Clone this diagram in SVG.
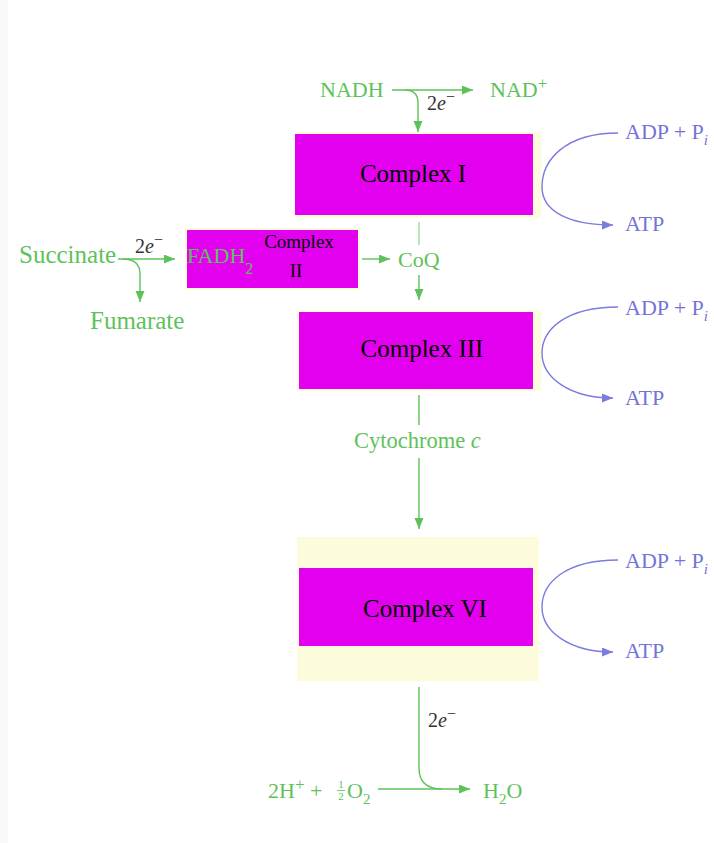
<svg xmlns="http://www.w3.org/2000/svg" width="714" height="843" viewBox="0 0 714 843">
<style>
.g{fill:#5ec25a;font-family:"Liberation Serif",serif}
.b{fill:#7474d8;font-family:"Liberation Serif",serif;font-size:22px}
.k{fill:#000;font-family:"Liberation Serif",serif}
.e{fill:#333;font-family:"Liberation Serif",serif;font-size:20px}
.cx{fill:#e300ef}
.gl{fill:none;stroke:#5ec25a;stroke-width:1.4}
.bl{fill:none;stroke:#7b7be0;stroke-width:1.4}
.pale{fill:#fcfcdc}
</style>
<defs>
<marker id="ag" markerUnits="userSpaceOnUse" markerWidth="12" markerHeight="10" refX="11" refY="4.5" orient="auto"><path d="M0,0 L11,4.5 L0,9 z" fill="#5ec25a"/></marker>
<marker id="ab" markerUnits="userSpaceOnUse" markerWidth="12" markerHeight="10" refX="11" refY="4.5" orient="auto"><path d="M0,0 L11,4.5 L0,9 z" fill="#7b7be0"/></marker>
</defs>
<rect width="714" height="843" fill="#ffffff"/>
<rect x="0" y="0" width="8" height="843" fill="#f9f9fb"/>

<g id="complex1">
<rect class="pale" x="295" y="132" width="246" height="86"/>
<rect class="cx" x="295" y="134" width="238" height="81"/>
<text class="k" x="413" y="182" font-size="25" text-anchor="middle">Complex I</text>
</g>
<g id="complex2">
<rect class="pale" x="185" y="228" width="175" height="62"/>
<rect class="cx" x="187" y="230" width="171" height="58"/>
<text class="g" x="187" y="263" font-size="22">FADH<tspan font-size="16" dy="11">2</tspan></text>
<text class="k" x="299" y="248" font-size="19" text-anchor="middle">Complex</text>
<text class="k" x="296" y="277" font-size="19" text-anchor="middle">II</text>
</g>
<g id="complex3">
<rect class="pale" x="297" y="310" width="244" height="81"/>
<rect class="cx" x="299" y="312" width="234" height="77"/>
<text class="k" x="422" y="357" font-size="25" text-anchor="middle">Complex III</text>
</g>
<g id="complex6">
<rect class="pale" x="297" y="537" width="242" height="144"/>
<rect class="cx" x="299" y="568" width="234" height="78"/>
<text class="k" x="425" y="617" font-size="25" text-anchor="middle">Complex VI</text>
</g>

<g id="labels">
<text class="g" x="320" y="97" font-size="22">NADH</text>
<text class="g" x="490" y="97" font-size="22">NAD<tspan font-size="17" dy="-8">+</tspan></text>
<text class="e" x="427" y="110"><tspan>2</tspan><tspan font-style="italic">e</tspan><tspan font-size="16" dy="-8">−</tspan></text>
<text class="g" x="19" y="263" font-size="25">Succinate</text>
<text class="g" x="90" y="329" font-size="25">Fumarate</text>
<text class="e" x="135" y="253"><tspan>2</tspan><tspan font-style="italic">e</tspan><tspan font-size="16" dy="-8">−</tspan></text>
<text class="g" x="398" y="267" font-size="22">CoQ</text>
<text class="g" x="354" y="448" font-size="22.5">Cytochrome <tspan font-style="italic">c</tspan></text>
<text class="e" x="428" y="727"><tspan>2</tspan><tspan font-style="italic">e</tspan><tspan font-size="16" dy="-8">−</tspan></text>
<text class="g" x="268" y="798" font-size="22">2H<tspan font-size="17" dy="-8">+</tspan><tspan dy="8"> +</tspan></text>
<text class="g" x="341" y="788" font-size="11" text-anchor="middle">1</text>
<line x1="337" y1="790.5" x2="345" y2="790.5" stroke="#5ec25a" stroke-width="0.8"/>
<text class="g" x="341" y="800" font-size="11" text-anchor="middle">2</text>
<text class="g" x="347" y="798" font-size="22">O<tspan font-size="15" dy="6">2</tspan></text>
<text class="g" x="483" y="798" font-size="22">H<tspan font-size="15" dy="6">2</tspan><tspan dy="-6">O</tspan></text>
<text class="b" x="625" y="139">ADP + P<tspan font-size="15" dy="6" font-style="italic">i</tspan></text>
<text class="b" x="625" y="231">ATP</text>
<text class="b" x="625" y="315">ADP + P<tspan font-size="15" dy="6" font-style="italic">i</tspan></text>
<text class="b" x="625" y="405">ATP</text>
<text class="b" x="625" y="568">ADP + P<tspan font-size="15" dy="6" font-style="italic">i</tspan></text>
<text class="b" x="625" y="658">ATP</text>
</g>

<g id="connectors">
<path class="gl" d="M392,90 L473,90" marker-end="url(#ag)"/>
<path class="gl" d="M405,90 Q418,90 418,103 L418,132" marker-end="url(#ag)"/>
<path class="gl" d="M118,259 L175,259" marker-end="url(#ag)"/>
<path class="gl" d="M123,259 Q140,259 140,274 L140,302" marker-end="url(#ag)"/>
<path class="gl" d="M419,222 L419,245" stroke-opacity="0.6"/>
<path class="gl" d="M362,259 L390,259" marker-end="url(#ag)"/>
<path class="gl" d="M419,275 L419,300" marker-end="url(#ag)"/>
<path class="gl" d="M419,395 L419,425"/>
<path class="gl" d="M419,458 L419,529" marker-end="url(#ag)"/>
<path class="gl" d="M419,687 L419,768 Q419,789 442,789"/>
<path class="gl" d="M378,789 L470,789" marker-end="url(#ag)"/>
<path class="bl" d="M618,133 C565,133 542,160 542,187 C542,212 570,225 613,225" marker-end="url(#ab)"/>
<path class="bl" d="M618,307 C565,307 542,330 542,353 C542,378 570,398 613,398" marker-end="url(#ab)"/>
<path class="bl" d="M618,560 C565,560 542,583 542,607 C542,632 570,652 613,652" marker-end="url(#ab)"/>
</g>
</svg>
